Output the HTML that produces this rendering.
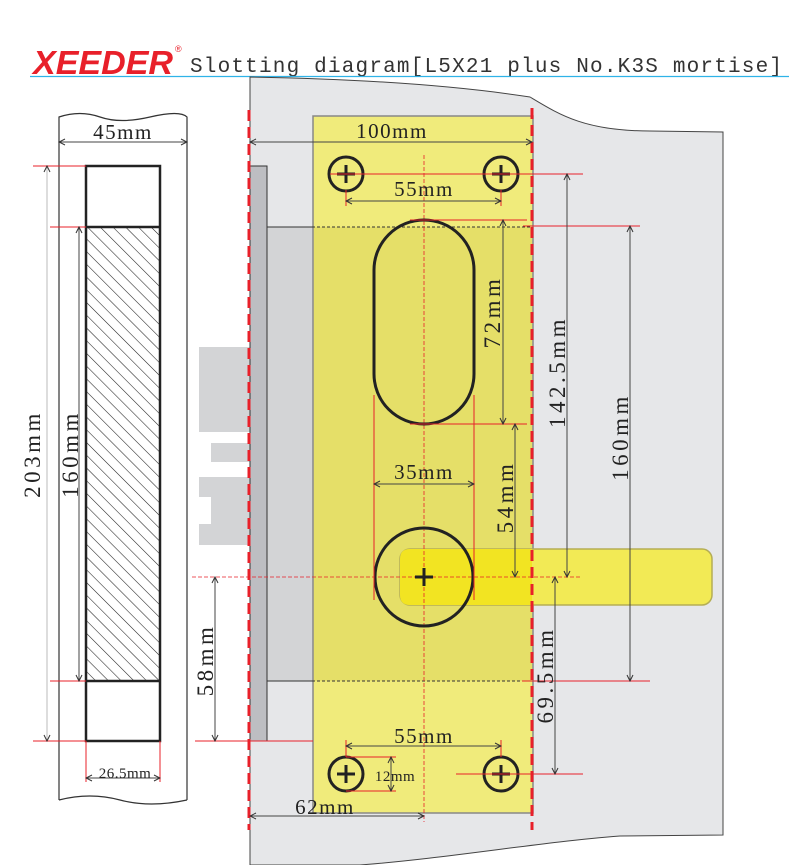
<!DOCTYPE html>
<html><head><meta charset="utf-8"><style>html,body{margin:0;padding:0;background:#fff}svg{display:block}</style></head>
<body>
<svg width="789" height="865" viewBox="0 0 789 865" xmlns="http://www.w3.org/2000/svg" font-family="Liberation Serif, serif">
<defs>
<marker id="a" markerWidth="8" markerHeight="8" refX="7" refY="4" orient="auto-start-reverse" markerUnits="userSpaceOnUse"><path d="M1,1 L7,4 L1,7" fill="none" stroke="#333" stroke-width="1"/></marker>
<pattern id="h" width="9" height="9" patternUnits="userSpaceOnUse" patternTransform="rotate(-45)"><line x1="0" y1="0" x2="0" y2="9" stroke="#222" stroke-width="1.1"/></pattern>
</defs>
<!-- title -->
<text x="33" y="74" font-family="Liberation Sans, sans-serif" font-weight="bold" font-style="italic" font-size="33" fill="#e8202a" textLength="140" lengthAdjust="spacingAndGlyphs">XEEDER</text>
<text x="175" y="52" font-family="Liberation Sans, sans-serif" font-size="9" fill="#e8202a">®</text>
<text x="190" y="72" font-family="Liberation Mono, monospace" font-size="21" fill="#333" textLength="592" lengthAdjust="spacing">Slotting diagram[L5X21 plus No.K3S mortise]</text>
<line x1="30" y1="76.5" x2="789" y2="76.5" stroke="#2fb3e8" stroke-width="1.2"/>

<!-- door -->
<path d="M250,77 Q420,80 530,97 C560,115 585,131 650,131 L723,132 L723,835 L620,836 C540,842 450,858 360,865 L250,865 Z" fill="#e6e7e9" stroke="#444" stroke-width="1"/>
<!-- left gray blocks -->
<rect x="199" y="347" width="51" height="85" fill="#d3d4d6"/>
<rect x="211" y="443" width="39" height="19" fill="#d3d4d6"/>
<path d="M199,477 H250 V545 H199 V524 H211 V497 H199 Z" fill="#d3d4d6"/>
<!-- mortise body -->
<rect x="267" y="227" width="265" height="454" fill="#d3d4d6" stroke="#333" stroke-width="1"/>
<rect x="250" y="166" width="17" height="575" fill="#bdbec2" stroke="#333" stroke-width="1"/>
<!-- plate -->
<rect x="313" y="116" width="220" height="697" fill="#f0eb7b" stroke="#888" stroke-width="1.5"/>
<rect x="314" y="227" width="218" height="454" fill="#e5df68"/>
<line x1="267" y1="227" x2="532" y2="227" stroke="#333" stroke-dasharray="3,2" stroke-width="1"/>
<line x1="267" y1="681" x2="532" y2="681" stroke="#333" stroke-dasharray="3,2" stroke-width="1"/>
<!-- handle -->
<rect x="400" y="549" width="312" height="56" rx="10" fill="#f2ea55" stroke="#b5ae55" stroke-width="1.5"/>
<path d="M410,549 H532 V605 H410 Q400,605 400,595 V559 Q400,549 410,549 Z" fill="#f2e422"/>
<!-- red dashed verticals -->
<line x1="249" y1="110" x2="249" y2="830" stroke="#e8202a" stroke-width="3" stroke-dasharray="11,6"/>
<line x1="532" y1="108" x2="532" y2="830" stroke="#e8202a" stroke-width="3" stroke-dasharray="11,6"/>
<line x1="424" y1="155" x2="424" y2="822" stroke="#e8202a" stroke-width="0.8" stroke-dasharray="4,2"/>
<line x1="192" y1="577" x2="580" y2="577" stroke="#e8202a" stroke-width="0.8" stroke-dasharray="4,2"/>
<!-- holes -->
<g fill="none" stroke="#222" stroke-width="3">
<circle cx="346" cy="174" r="17"/><circle cx="501" cy="174" r="17"/>
<circle cx="346" cy="774" r="17"/><circle cx="501" cy="774" r="17"/>
<rect x="374" y="220" width="100" height="204" rx="50"/>
<circle cx="424" cy="577" r="49"/>
<path d="M337,174h18M346,165v18M492,174h18M501,165v18M337,774h18M346,765v18M492,774h18M501,765v18M415,577h18M424,568v18"/>
</g>

<!-- left panel -->
<path d="M59,800 V117 Q80,110 100,117 T150,117 T187,117 V800 M59,800 Q90,792 120,800 T187,800" fill="none" stroke="#333" stroke-width="1.2"/>
<rect x="86" y="227" width="74" height="454" fill="url(#h)"/>
<rect x="86" y="166" width="74" height="575" fill="none" stroke="#222" stroke-width="2.5"/>
<line x1="86" y1="227" x2="160" y2="227" stroke="#222" stroke-width="2.5"/>
<line x1="86" y1="681" x2="160" y2="681" stroke="#222" stroke-width="2.5"/>

<!-- red extension lines -->
<g stroke="#e8202a" stroke-width="1">
<line x1="33" y1="166" x2="86" y2="166"/><line x1="50" y1="227" x2="86" y2="227"/>
<line x1="50" y1="681" x2="86" y2="681"/><line x1="33" y1="741" x2="86" y2="741"/>
<line x1="86" y1="741" x2="86" y2="782"/><line x1="160" y1="741" x2="160" y2="782"/>
<line x1="330" y1="174" x2="583" y2="174"/>
<line x1="346" y1="190" x2="346" y2="206"/><line x1="501" y1="190" x2="501" y2="206"/>
<line x1="410" y1="220" x2="527" y2="220"/><line x1="410" y1="424" x2="527" y2="424"/>
<line x1="523" y1="226" x2="640" y2="226"/>
<line x1="374" y1="395" x2="374" y2="600"/><line x1="474" y1="395" x2="474" y2="600"/>
<line x1="195" y1="741" x2="313" y2="741"/>
<line x1="522" y1="681" x2="650" y2="681"/>
<line x1="456" y1="774" x2="583" y2="774"/>
<line x1="346" y1="740" x2="346" y2="757"/><line x1="501" y1="740" x2="501" y2="757"/>
<line x1="346" y1="757" x2="396" y2="757"/><line x1="346" y1="791" x2="396" y2="791"/>
</g>

<!-- arrows -->
<g stroke="#444" stroke-width="1" marker-start="url(#a)" marker-end="url(#a)">
<line x1="59" y1="142" x2="187" y2="142"/>
<line x1="47" y1="166" x2="47" y2="741" stroke="#bbb"/>
<line x1="79" y1="227" x2="79" y2="681"/>
<line x1="86" y1="778" x2="160" y2="778"/>
<line x1="250" y1="142" x2="532" y2="142"/>
<line x1="346" y1="201" x2="501" y2="201"/>
<line x1="567" y1="174" x2="567" y2="577"/>
<line x1="630" y1="226" x2="630" y2="681"/>
<line x1="503" y1="220" x2="503" y2="424"/>
<line x1="515" y1="424" x2="515" y2="577"/>
<line x1="374" y1="484" x2="474" y2="484"/>
<line x1="215" y1="577" x2="215" y2="741"/>
<line x1="555" y1="577" x2="555" y2="774"/>
<line x1="346" y1="746" x2="501" y2="746"/>
<line x1="391" y1="757" x2="391" y2="791"/>
<line x1="250" y1="816" x2="424" y2="816"/>
</g>

<!-- labels -->
<g fill="#222" font-size="21" text-anchor="middle" letter-spacing="1.5">
<text x="123" y="139">45mm</text>
<text x="392" y="138">100mm</text>
<text x="424" y="196">55mm</text>
<text x="424" y="479">35mm</text>
<text x="424" y="743">55mm</text>
<text x="325" y="814">62mm</text>
<text x="125" y="778" font-size="15" letter-spacing="0.5">26.5mm</text>
<text x="395" y="781" font-size="15" letter-spacing="0.5">12mm</text>
</g>
<g fill="#222" font-size="23" text-anchor="middle" letter-spacing="3.5">
<text transform="translate(40,454) rotate(-90)">203mm</text>
<text transform="translate(78,454) rotate(-90)">160mm</text>
<text transform="translate(213,660) rotate(-90)">58mm</text>
<text transform="translate(500,312) rotate(-90)">72mm</text>
<text transform="translate(513,497) rotate(-90)">54mm</text>
<text transform="translate(565,372) rotate(-90)">142.5mm</text>
<text transform="translate(628,437) rotate(-90)">160mm</text>
<text transform="translate(553,675) rotate(-90)">69.5mm</text>
</g>
</svg>
</body></html>
